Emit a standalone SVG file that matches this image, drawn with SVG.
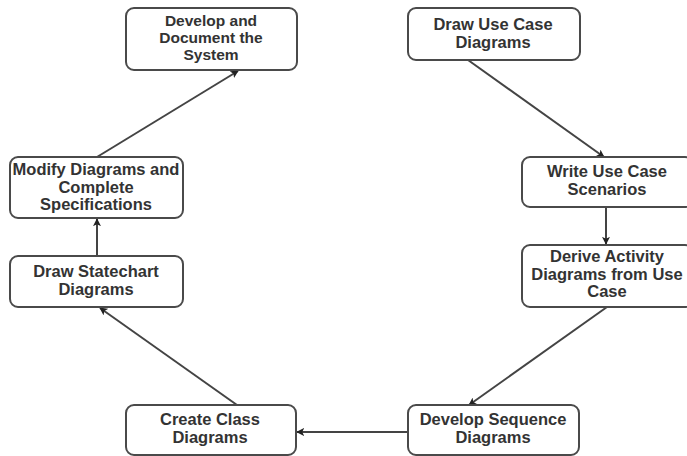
<svg xmlns="http://www.w3.org/2000/svg" width="687" height="456" viewBox="0 0 687 456">
  <style>
    .box { fill: #ffffff; stroke: #4a4a4a; stroke-width: 2; }
    .lbl { font-family: "Liberation Sans", Arial, sans-serif; font-weight: bold; font-size: 16.5px; fill: #333333; text-anchor: middle; }
    .tight { font-size: 15.5px; }
    .edge { stroke: #444444; stroke-width: 2; fill: none; marker-end: url(#arrow); }
  </style>
  <defs>
    <marker id="arrow" viewBox="0 0 10 10" refX="9" refY="5" markerWidth="8" markerHeight="8" orient="auto" markerUnits="userSpaceOnUse">
      <path d="M0,0 L10,5 L0,10 L2.5,5 Z" fill="#222222"/>
    </marker>
  </defs>
  <rect width="687" height="456" fill="#ffffff"/>

  <g id="connectors">
    <line class="edge" x1="468" y1="60" x2="604" y2="157"/>
    <line class="edge" x1="606" y1="208" x2="606" y2="244"/>
    <line class="edge" x1="607" y1="307" x2="469" y2="405"/>
    <line class="edge" x1="408" y1="432" x2="297" y2="432"/>
    <line class="edge" x1="237" y1="405" x2="100" y2="308"/>
    <line class="edge" x1="97" y1="256" x2="97" y2="219"/>
    <line class="edge" x1="97" y1="157" x2="238" y2="71"/>
  </g>

  <g id="develop-document">
    <rect class="box" x="126" y="8" width="171" height="62" rx="8"/>
    <text class="lbl tight" x="211" y="26">Develop and</text>
    <text class="lbl tight" x="211" y="43">Document the</text>
    <text class="lbl tight" x="211" y="60">System</text>
  </g>

  <g id="draw-use-case">
    <rect class="box" x="408" y="8" width="172" height="52" rx="8"/>
    <text class="lbl" x="493" y="30">Draw Use Case</text>
    <text class="lbl" x="493" y="48">Diagrams</text>
  </g>

  <g id="write-scenarios">
    <rect class="box" x="522" y="157" width="171" height="50" rx="8"/>
    <text class="lbl" x="607" y="177">Write Use Case</text>
    <text class="lbl" x="607" y="195">Scenarios</text>
  </g>

  <g id="derive-activity">
    <rect class="box" x="522" y="245" width="171" height="62" rx="8"/>
    <text class="lbl" x="607" y="262">Derive Activity</text>
    <text class="lbl" x="607" y="280">Diagrams from Use</text>
    <text class="lbl" x="607" y="297">Case</text>
  </g>

  <g id="develop-sequence">
    <rect class="box" x="408" y="405" width="171" height="50" rx="8"/>
    <text class="lbl" x="493" y="425">Develop Sequence</text>
    <text class="lbl" x="493" y="443">Diagrams</text>
  </g>

  <g id="create-class">
    <rect class="box" x="126" y="405" width="170" height="50" rx="8"/>
    <text class="lbl" x="210" y="425">Create Class</text>
    <text class="lbl" x="210" y="443">Diagrams</text>
  </g>

  <g id="draw-statechart">
    <rect class="box" x="10" y="256" width="173" height="51" rx="8"/>
    <text class="lbl" x="96" y="277">Draw Statechart</text>
    <text class="lbl" x="96" y="295">Diagrams</text>
  </g>

  <g id="modify-diagrams">
    <rect class="box" x="10" y="157" width="173" height="61" rx="8"/>
    <text class="lbl" x="96" y="175">Modify Diagrams and</text>
    <text class="lbl" x="96" y="193">Complete</text>
    <text class="lbl" x="96" y="210">Specifications</text>
  </g>
</svg>
